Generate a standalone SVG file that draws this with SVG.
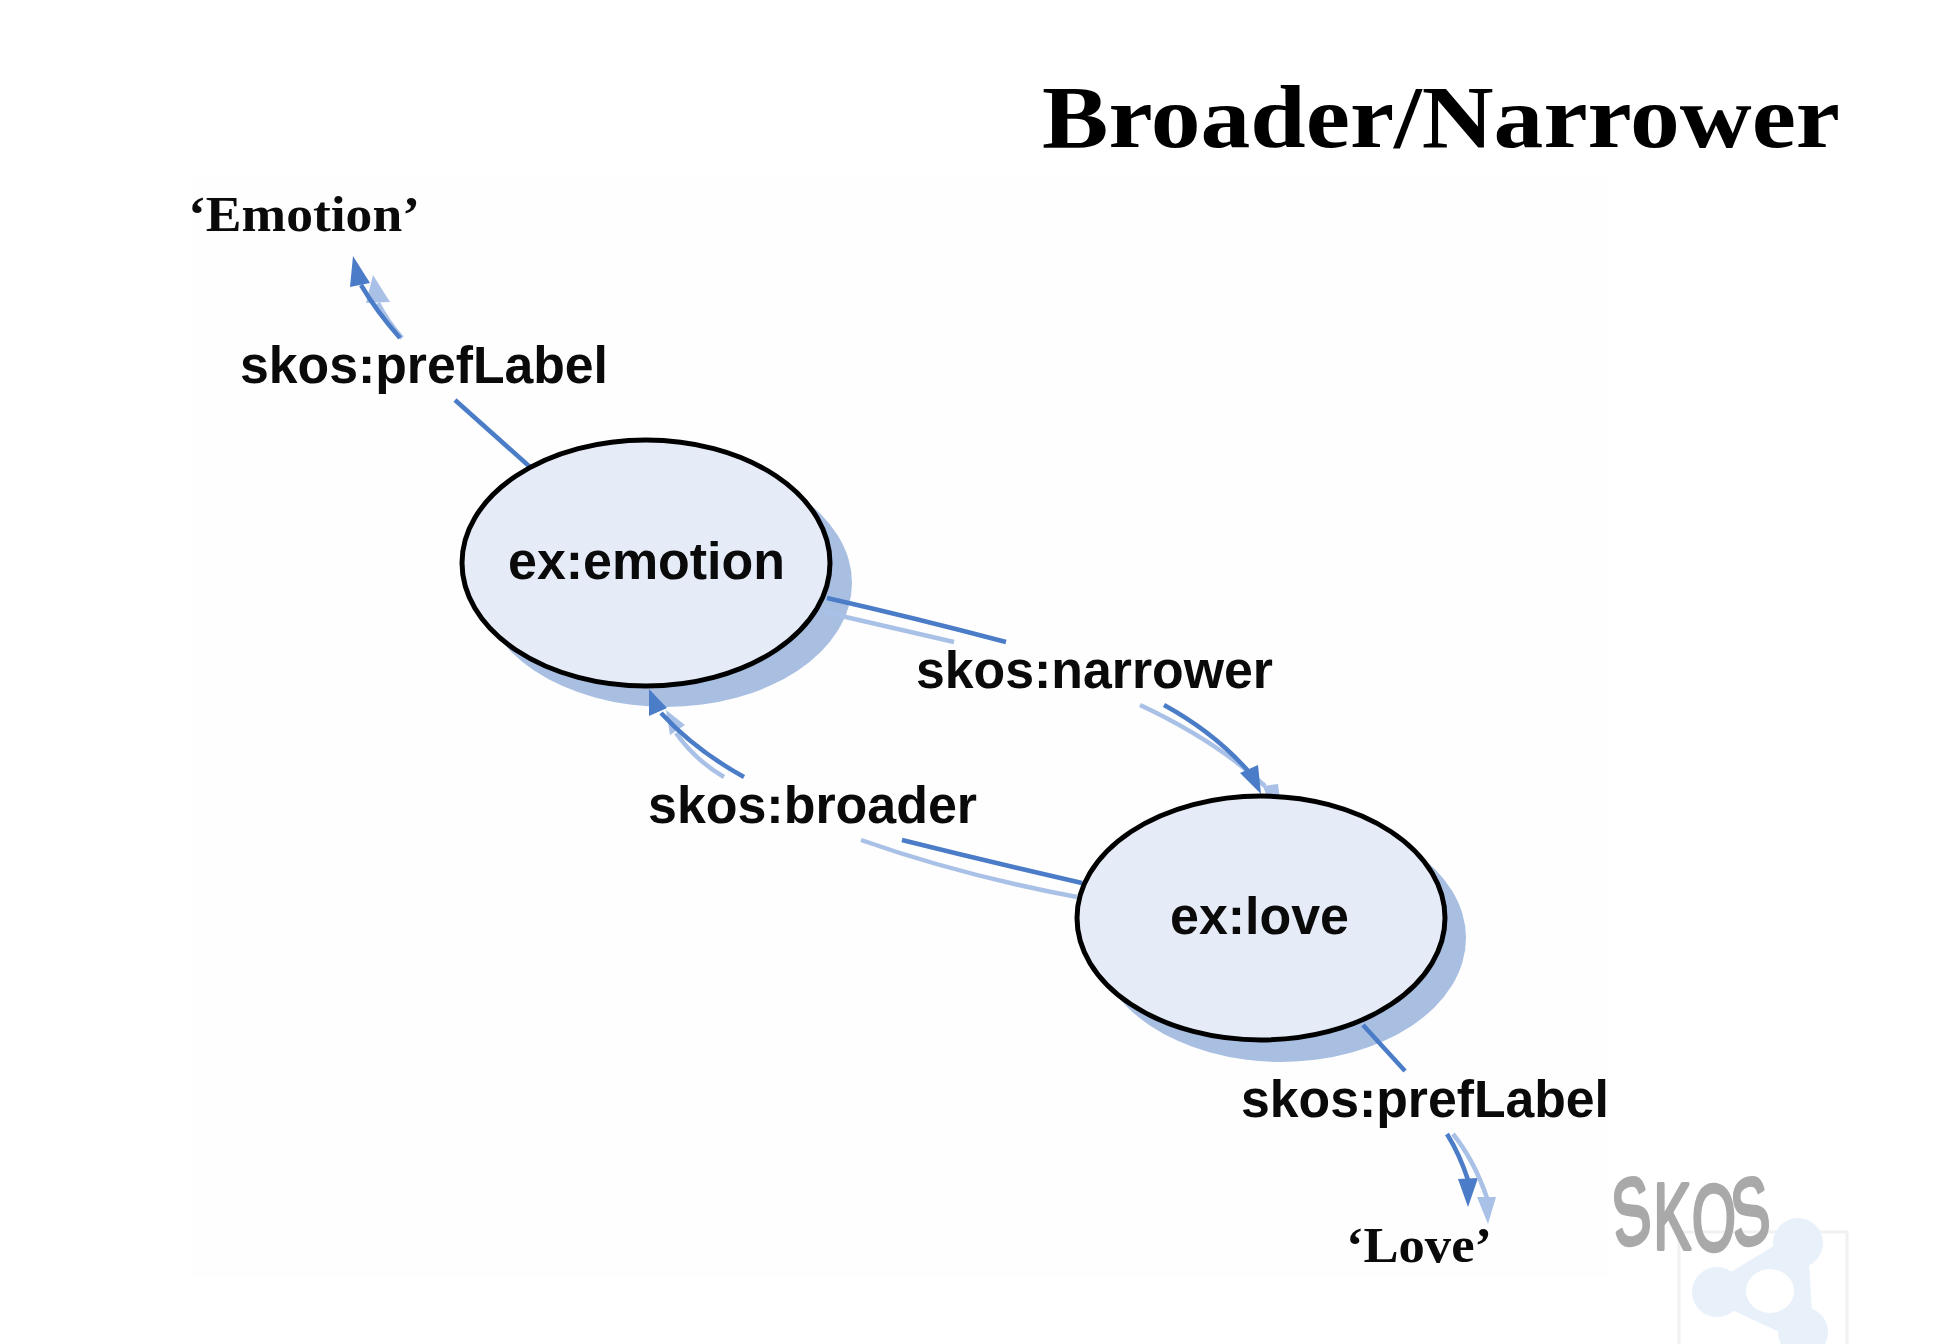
<svg xmlns="http://www.w3.org/2000/svg" width="1956" height="1344" viewBox="0 0 1956 1344">
<style>
.shadow{fill:#a8bfe2}
.node{fill:#e6ecf7;stroke:#000;stroke-width:5}
.lbl{font-family:"Liberation Sans",Arial,sans-serif;font-weight:700;font-size:51px;fill:#0a0a0a}
.lit{font-family:"Liberation Serif","Times New Roman",serif;font-weight:700;font-size:51px;fill:#0a0a0a}
.title{font-family:"Liberation Serif","Times New Roman",serif;font-weight:700;font-size:88px;fill:#000}
.d{fill:none;stroke:#4a7cc7;stroke-width:4.5}
.l{fill:none;stroke:#a9c1e6;stroke-width:4.5}
.dh{fill:#4a7cc7}
.lh{fill:#a9c1e6}
</style>
<rect width="1956" height="1344" fill="#fff"/>
<rect x="190" y="178" width="1420" height="1099" fill="#fefefe"/>
<text class="title" x="1042" y="147" textLength="798" lengthAdjust="spacingAndGlyphs">Broader/Narrower</text>
<g id="skos-logo">
<rect x="1679" y="1232" width="168" height="130" fill="none" stroke="#f1f1f1" stroke-width="3"/>
<path d="M1798 1243L1717 1292L1803 1332Z" fill="#e8f0fa" stroke="#e8f0fa" stroke-width="20" stroke-linejoin="round"/>
<ellipse cx="1770" cy="1291" rx="24" ry="22" fill="#fff"/>
<circle cx="1798" cy="1243" r="25" fill="#e8f0fa"/>
<circle cx="1717" cy="1292" r="25" fill="#e8f0fa"/>
<circle cx="1803" cy="1332" r="25" fill="#e8f0fa"/>
<text transform="translate(1616 1249) scale(0.6 1)" x="0" y="0" font-family="'Liberation Sans',Arial,sans-serif" font-size="94" fill="#a9a9a9" stroke="#a9a9a9" stroke-width="4" stroke-linejoin="round" rotate="-10 0 2 -10">SKOS</text>
</g>
<g id="shadows">
<ellipse class="shadow" cx="666" cy="583" rx="186" ry="124"/>
<ellipse class="shadow" cx="1281" cy="938" rx="185" ry="124"/>
</g>
<g id="connectors">
<path class="l" d="M402 338Q388 322 378 303"/>
<polygon class="lh" points="373,275 366,303 390,302"/>
<path class="d" d="M400 338Q377 312 361 285"/>
<polygon class="dh" points="353,256 350,287 370,283"/>
<path class="d" d="M455 400L530 467"/>
<path class="l" d="M824 612Q890 627 954 642"/>
<path class="d" d="M827 598Q915 618 1006 642"/>
<path class="l" d="M1140 705Q1215 740 1265 786"/>
<polygon class="lh" points="1263,786 1278,784 1280,800 1268,800"/>
<path class="d" d="M1164 705Q1215 733 1249 772"/>
<polygon class="dh" points="1261,794 1240,773 1258,765"/>
<path class="l" d="M724 777Q695 760 676 733"/>
<polygon class="lh" points="666,710 685,725 670,735"/>
<path class="d" d="M744 777Q695 750 661 713"/>
<polygon class="dh" points="649,689 649,716 667,708"/>
<path class="l" d="M861 840Q960 875 1077 897"/>
<path class="d" d="M902 840Q990 862 1082 883"/>
<path class="d" d="M1363 1025L1405 1071"/>
<path class="d" d="M1447 1134Q1460 1155 1468 1180"/>
<polygon class="dh" points="1458,1179 1478,1178 1468,1207"/>
<path class="l" d="M1453 1134Q1474 1160 1487 1198"/>
<polygon class="lh" points="1477,1197 1496,1197 1488,1224"/>
</g>
<g id="emotion">
<ellipse class="node" cx="646" cy="563" rx="184" ry="123"/>
<text class="lbl" x="508" y="579" textLength="277" lengthAdjust="spacingAndGlyphs">ex:emotion</text>
</g>
<g id="love">
<ellipse class="node" cx="1261" cy="918" rx="184" ry="122"/>
<text class="lbl" x="1170" y="934" textLength="179" lengthAdjust="spacingAndGlyphs">ex:love</text>
</g>
<g id="lit-emotion"><text class="lit" x="188" y="231" textLength="232" lengthAdjust="spacingAndGlyphs">‘Emotion’</text></g>
<g id="lit-love"><text class="lit" x="1346" y="1262" textLength="146" lengthAdjust="spacingAndGlyphs">‘Love’</text></g>
<g id="edge-labels">
<text class="lbl" x="240" y="383" textLength="368" lengthAdjust="spacingAndGlyphs">skos:prefLabel</text>
<text class="lbl" x="916" y="688" textLength="357" lengthAdjust="spacingAndGlyphs">skos:narrower</text>
<text class="lbl" x="648" y="823" textLength="329" lengthAdjust="spacingAndGlyphs">skos:broader</text>
<text class="lbl" x="1241" y="1117" textLength="368" lengthAdjust="spacingAndGlyphs">skos:prefLabel</text>
</g>
</svg>
